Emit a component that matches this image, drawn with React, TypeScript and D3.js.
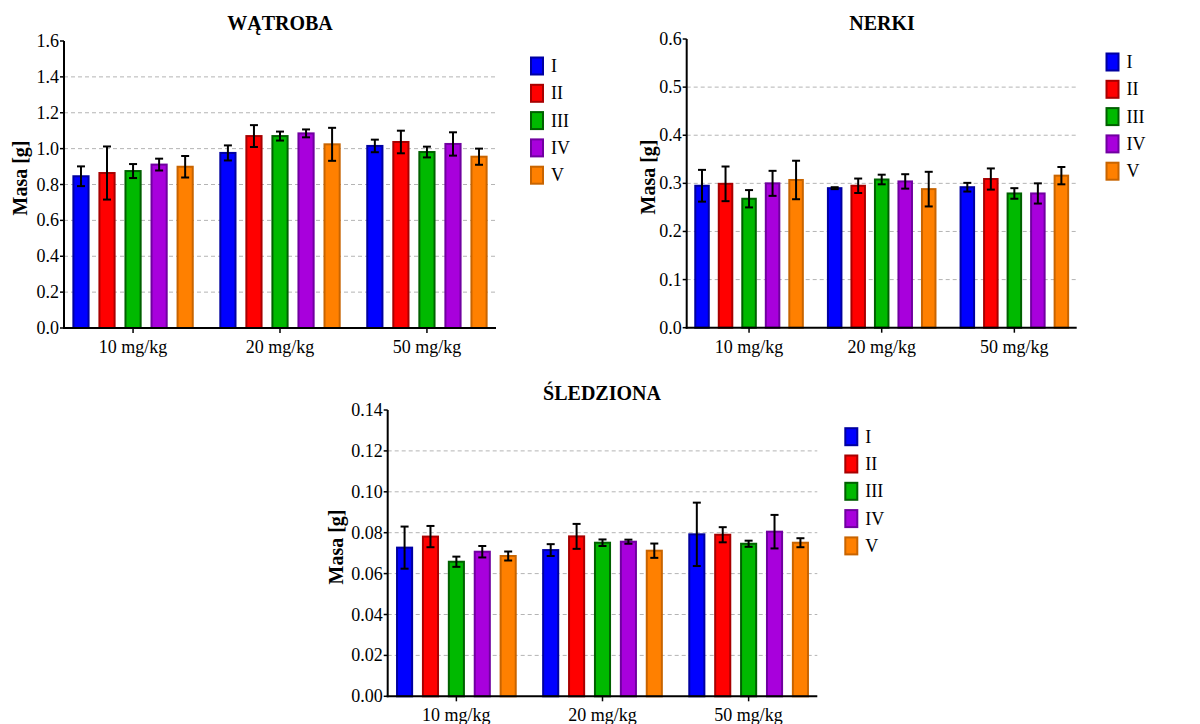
import React from "react";
import * as d3 from "d3";

const groups = ["10 mg/kg", "20 mg/kg", "50 mg/kg"];
const seriesNames = ["I", "II", "III", "IV", "V"];
const fills = ["#0000ff", "#ff0000", "#00b900", "#a800dc", "#ff8000"];
const strokes = ["#0000a0", "#a80000", "#006000", "#7000a0", "#c86400"];

const liverMean = [
  [0.846, 0.864, 0.875, 0.911, 0.899],
  [0.976, 1.07, 1.07, 1.085, 1.024],
  [1.015, 1.037, 0.981, 1.026, 0.955],
];
const liverErr = [
  [0.055, 0.148, 0.039, 0.033, 0.06],
  [0.042, 0.061, 0.025, 0.022, 0.092],
  [0.035, 0.063, 0.03, 0.065, 0.045],
];
const liverTicks = [0, 0.2, 0.4, 0.6, 0.8, 1.0, 1.2, 1.4, 1.6];
const liverTickLabels = ["0.0", "0.2", "0.4", "0.6", "0.8", "1.0", "1.2", "1.4", "1.6"];

const kidneyMean = [
  [0.295, 0.299, 0.268, 0.3, 0.307],
  [0.29, 0.295, 0.308, 0.304, 0.288],
  [0.292, 0.309, 0.279, 0.279, 0.316],
];
const kidneyErr = [
  [0.033, 0.036, 0.018, 0.026, 0.04],
  [0.002, 0.015, 0.01, 0.015, 0.036],
  [0.009, 0.022, 0.011, 0.021, 0.018],
];
const kidneyTicks = [0, 0.1, 0.2, 0.3, 0.4, 0.5, 0.6];
const kidneyTickLabels = ["0.0", "0.1", "0.2", "0.3", "0.4", "0.5", "0.6"];

const spleenMean = [
  [0.0727, 0.0781, 0.0658, 0.0707, 0.0686],
  [0.0715, 0.0782, 0.0751, 0.0756, 0.0712],
  [0.0792, 0.079, 0.0746, 0.0805, 0.0751],
];
const spleenErr = [
  [0.0103, 0.0052, 0.0025, 0.0028, 0.0022],
  [0.0029, 0.0061, 0.0016, 0.001, 0.0035],
  [0.0155, 0.0037, 0.0015, 0.0082, 0.0022],
];
const spleenTicks = [0, 0.02, 0.04, 0.06, 0.08, 0.1, 0.12, 0.14];
const spleenTickLabels = ["0.00", "0.02", "0.04", "0.06", "0.08", "0.10", "0.12", "0.14"];

const FONT = "'Liberation Serif', 'Times New Roman', serif";

type PanelProps = {
  title: string;
  means: number[][];
  errs: number[][];
  ticks: number[];
  tickLabels: string[];
  x0: number;
  x1: number;
  yBottom: number;
  yTop: number;
  titleX: number;
  titleY: number;
  ylabX: number;
  ylabY: number;
  legX: number;
  legY: number;
};

function Panel(p: PanelProps) {
  const yMax = p.ticks[p.ticks.length - 1];
  const x = d3.scalePoint<string>().domain(groups).range([p.x0, p.x1]).padding(0.47);
  const step = x.step();
  const inner = d3
    .scaleBand<string>()
    .domain(seriesNames)
    .range([-0.413 * step, 0.413 * step])
    .paddingInner(0.34)
    .paddingOuter(0);
  const bw = inner.bandwidth();
  const y = d3.scaleLinear().domain([0, yMax]).range([p.yBottom, p.yTop]);
  const cap = 4;

  return (
    <g>
      <text
        x={p.titleX}
        y={p.titleY}
        textAnchor="middle"
        dominantBaseline="central"
        fontFamily={FONT}
        fontWeight="bold"
        fontSize={20}
      >
        {p.title}
      </text>
      {/* grid */}
      {p.ticks.slice(1, -1).map((t) => (
        <line
          key={"g" + t}
          x1={p.x0}
          x2={p.x1}
          y1={y(t)}
          y2={y(t)}
          stroke="#b4b4b4"
          strokeWidth={1}
          strokeDasharray="4,3"
        />
      ))}
      {/* bars */}
      {groups.map((g, gi) =>
        seriesNames.map((s, si) => {
          const v = p.means[gi][si];
          const bx = (x(g) as number) + (inner(s) as number);
          return (
            <rect
              key={g + s}
              x={bx + 1}
              y={y(v)}
              width={bw - 2}
              height={p.yBottom - y(v)}
              fill={fills[si]}
              stroke={strokes[si]}
              strokeWidth={2}
            />
          );
        })
      )}
      {/* error bars */}
      {groups.map((g, gi) =>
        seriesNames.map((s, si) => {
          const v = p.means[gi][si];
          const e = p.errs[gi][si];
          const cx = (x(g) as number) + (inner(s) as number) + bw / 2;
          const yt = y(v + e);
          const yb = y(v - e);
          return (
            <g key={"e" + g + s} stroke="#000" strokeWidth={2}>
              <line x1={cx} x2={cx} y1={yt} y2={yb} />
              <line x1={cx - cap} x2={cx + cap} y1={yt} y2={yt} />
              <line x1={cx - cap} x2={cx + cap} y1={yb} y2={yb} />
            </g>
          );
        })
      )}
      {/* y axis */}
      <line x1={p.x0} x2={p.x0} y1={p.yTop} y2={p.yBottom + 1} stroke="#000" strokeWidth={2} />
      {p.ticks.map((t, i) => (
        <g key={"t" + t}>
          <line x1={p.x0 - 4} x2={p.x0} y1={y(t)} y2={y(t)} stroke="#000" strokeWidth={1.5} />
          <text
            x={p.x0 - 5}
            y={y(t)}
            textAnchor="end"
            dominantBaseline="central"
            fontFamily={FONT}
            fontSize={18}
          >
            {p.tickLabels[i]}
          </text>
        </g>
      ))}
      {/* x axis */}
      <line x1={p.x0 - 1} x2={p.x1} y1={p.yBottom} y2={p.yBottom} stroke="#000" strokeWidth={2} />
      {groups.map((g) => (
        <g key={"x" + g}>
          <line
            x1={x(g) as number}
            x2={x(g) as number}
            y1={p.yBottom}
            y2={p.yBottom + 5}
            stroke="#000"
            strokeWidth={1.5}
          />
          <text
            x={x(g) as number}
            y={p.yBottom + 25}
            textAnchor="middle"
            fontFamily={FONT}
            fontSize={18}
          >
            {g}
          </text>
        </g>
      ))}
      {/* y label */}
      <text
        transform={`translate(${p.ylabX},${p.ylabY}) rotate(-90)`}
        textAnchor="middle"
        dominantBaseline="central"
        fontFamily={FONT}
        fontWeight="bold"
        fontSize={20}
      >
        Masa [g]
      </text>
      {/* legend */}
      {seriesNames.map((s, si) => {
        const cy = p.legY + si * 27.3;
        return (
          <g key={"l" + s}>
            <rect
              x={p.legX + 1}
              y={cy - 8.5}
              width={12}
              height={17}
              fill={fills[si]}
              stroke={strokes[si]}
              strokeWidth={2}
            />
            <text x={p.legX + 21} y={cy} dominantBaseline="central" fontFamily={FONT} fontSize={18}>
              {s}
            </text>
          </g>
        );
      })}
    </g>
  );
}

export default function App() {
  return (
    <svg
      width={1200}
      height={724}
      style={{ position: "absolute", left: 0, top: 0, background: "#fff" }}
    >
      <Panel
        title="WĄTROBA"
        means={liverMean}
        errs={liverErr}
        ticks={liverTicks}
        tickLabels={liverTickLabels}
        x0={64}
        x1={496}
        yBottom={328}
        yTop={41}
        titleX={280}
        titleY={23}
        ylabX={20}
        ylabY={178}
        legX={530}
        legY={66}
      />
      <Panel
        title="NERKI"
        means={kidneyMean}
        errs={kidneyErr}
        ticks={kidneyTicks}
        tickLabels={kidneyTickLabels}
        x0={686.7}
        x1={1076.7}
        yBottom={327.7}
        yTop={39}
        titleX={882}
        titleY={23}
        ylabX={648}
        ylabY={177}
        legX={1105.5}
        legY={62}
      />
      <Panel
        title="ŚLEDZIONA"
        means={spleenMean}
        errs={spleenErr}
        ticks={spleenTicks}
        tickLabels={spleenTickLabels}
        x0={387.7}
        x1={817.3}
        yBottom={696.3}
        yTop={410}
        titleX={602}
        titleY={393}
        ylabX={336}
        ylabY={547}
        legX={844.3}
        legY={436.7}
      />
    </svg>
  );
}
